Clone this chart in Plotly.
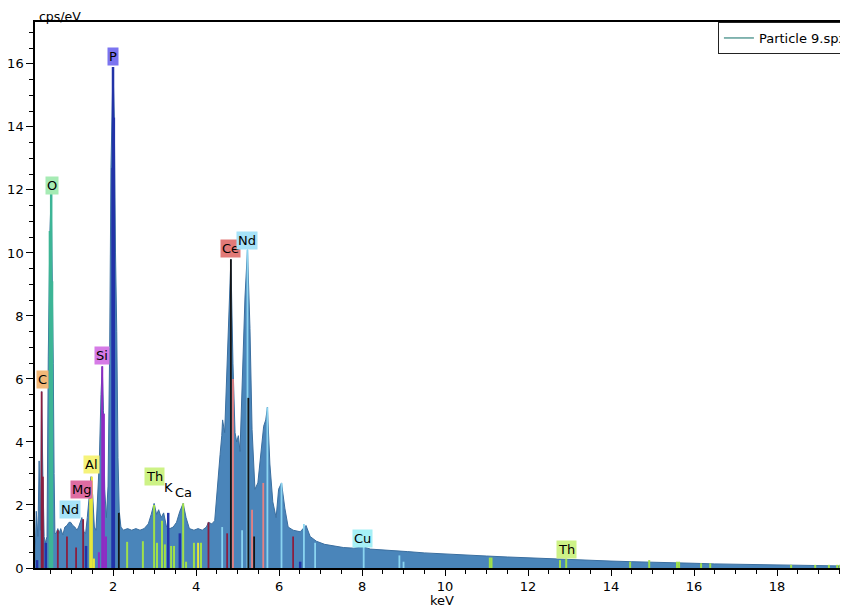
import plotly.graph_objects as go

# ---- spectrum (keV, cps/eV) ----
spec_kev = [0.12, 0.15, 0.19, 0.22, 0.25, 0.28, 0.31, 0.34, 0.37, 0.41, 0.44, 0.48, 0.51, 0.54,
            0.56, 0.58, 0.60, 0.63, 0.67, 0.70, 0.74, 0.79, 0.84, 0.89, 0.94, 0.98, 1.03, 1.08,
            1.13, 1.17, 1.21, 1.25, 1.30, 1.34, 1.38, 1.42, 1.47, 1.51, 1.55, 1.59, 1.63, 1.67,
            1.71, 1.74, 1.77, 1.80, 1.84, 1.88, 1.92, 1.95, 2.00, 2.03, 2.06, 2.09, 2.12, 2.15,
            2.19, 2.25, 2.35, 2.45, 2.55, 2.65, 2.75, 2.85, 2.92, 2.99, 3.05, 3.10, 3.16, 3.22,
            3.29, 3.37, 3.45, 3.53, 3.61, 3.69, 3.76, 3.84, 3.95, 4.05, 4.15, 4.25, 4.30, 4.38,
            4.45, 4.52, 4.58, 4.62, 4.64, 4.69, 4.74, 4.79, 4.84, 4.89, 4.94, 4.98, 5.02, 5.06,
            5.11, 5.18, 5.24, 5.30, 5.35, 5.42, 5.49, 5.57, 5.63, 5.68, 5.72, 5.78, 5.85, 5.93,
            5.99, 6.06, 6.14, 6.22, 6.34, 6.51, 6.60, 6.65, 6.75, 6.90, 7.10, 7.30, 7.55, 7.80,
            8.04, 8.20, 8.50, 8.80, 9.10, 9.50, 10.0, 10.5, 11.0, 11.5, 12.0, 12.5, 13.0, 13.5,
            14.0, 14.5, 15.0, 15.5, 16.0, 16.5, 17.0, 17.5, 18.0, 18.5, 19.0, 19.5, 19.8]
spec_cps = [0.2, 1.8, 1.0, 3.4, 1.2, 5.6, 2.9, 1.0, 0.8, 1.0, 6.7, 10.7, 11.9, 9.1,
            6.5, 3.0, 1.1, 1.1, 1.25, 1.1, 1.25, 1.05, 1.3, 1.35, 1.45, 1.45, 1.35, 1.3,
            1.2, 1.3, 1.45, 1.6, 1.15, 1.1, 1.6, 2.3, 2.9, 2.3, 1.3, 1.2, 2.2, 3.4,
            5.5, 6.4, 5.0, 2.5, 1.6, 2.6, 7.0, 12.7, 15.9, 14.3, 10.0, 7.5, 3.5, 1.8,
            1.3, 1.2, 1.25, 1.2, 1.25, 1.2, 1.25, 1.4, 1.7, 2.05, 1.7, 1.85, 1.6, 1.75,
            1.3, 1.25, 1.3, 1.45, 1.8, 2.05, 1.6, 1.25, 1.2, 1.25, 1.2, 1.3, 1.45, 1.4,
            1.5, 2.8, 3.6, 4.2, 4.7, 4.3, 6.3, 8.1, 9.8, 6.5, 4.3, 4.0, 4.2, 3.7,
            5.6, 8.6, 10.1, 7.6, 4.4, 2.5, 2.7, 3.8, 4.5, 4.7, 5.1, 3.3, 2.1, 1.6,
            2.5, 2.7, 1.9, 1.3, 1.2, 1.15, 1.3, 1.35, 1.0, 0.85, 0.75, 0.7, 0.65, 0.63,
            0.67, 0.6, 0.58, 0.55, 0.52, 0.48, 0.44, 0.41, 0.38, 0.35, 0.32, 0.3, 0.28, 0.25,
            0.22, 0.2, 0.19, 0.17, 0.15, 0.13, 0.12, 0.1, 0.08, 0.07, 0.07, 0.06, 0.06]

# ---- element marker lines (keV, height) per colour group ----
maroon_kev = [0.28, 0.31, 0.67, 0.89, 1.11, 1.28, 4.30, 4.75, 6.34]
maroon_h = [5.6, 2.9, 1.2, 1.0, 0.65, 1.55, 1.45, 1.1, 1.0]
black_kev = [2.14, 4.84, 5.26, 5.40]
black_h = [1.75, 9.8, 5.4, 1.0]
blue_kev = [0.17, 0.38, 1.35, 1.99, 2.0, 2.02, 3.33, 3.61, 6.51]
blue_h = [0.25, 0.8, 0.7, 12.7, 15.9, 14.3, 1.75, 1.1, 0.2]
teal_kev = [0.48, 0.51, 0.53]
teal_h = [10.7, 11.9, 9.1]
purple_kev = [1.66, 1.74, 1.78, 1.83]
purple_h = [0.5, 6.4, 4.9, 1.0]
yellow_kev = [1.45, 1.49, 1.54, 4.05]
yellow_h = [2.2, 2.9, 0.3, 0.8]
green_kev = [2.34, 2.72, 2.99, 3.06, 3.18, 3.25, 3.40, 3.47, 3.69, 3.76, 3.95, 4.12,
             11.08, 11.12, 12.77, 12.92, 14.46, 14.92, 15.59, 15.64, 16.17, 16.39,
             18.34, 18.92, 19.25, 19.45, 19.52]
green_h = [0.83, 0.85, 2.0, 0.8, 1.5, 0.75, 0.7, 0.7, 2.05, 0.2, 0.8, 0.8,
           0.33, 0.33, 0.25, 0.3, 0.2, 0.25, 0.2, 0.2, 0.15, 0.15,
           0.1, 0.1, 0.1, 0.1, 0.1]
lblue_kev = [4.63, 5.11, 5.24, 5.72, 6.06, 6.60, 6.87, 8.04, 8.90, 9.00]
lblue_h = [1.3, 1.2, 10.1, 5.1, 2.7, 1.4, 0.8, 0.67, 0.4, 0.2]
pink_kev = [4.89, 5.35, 5.62]
pink_h = [6.0, 1.85, 2.7]

# ---- element labels ----
lab_text = ["P", "O", "C", "Si", "Al", "Mg", "Nd", "Th", "Ce", "Nd", "Cu", "Th"]
lab_kev = [2.00, 0.52, 0.31, 1.73, 1.49, 1.25, 0.96, 3.01, 4.82, 5.23, 8.02, 12.92]
lab_cps = [16.25, 12.15, 5.97, 6.76, 3.27, 2.48, 1.87, 2.92, 10.13, 10.38, 0.95, 0.6]
lab_bg = ["#7B74F0", "#A6EBB4", "#F2B878", "#D67BE6", "#F6F37A", "#DE6CA2", "#A6E2F8",
          "#CDF286", "#E27A78", "#A6E2F8", "#A6F0F6", "#CDF286"]

x_ticks = [2, 4, 6, 8, 10, 12, 14, 16, 18]
y_ticks = [0, 2, 4, 6, 8, 10, 12, 14, 16]

fig = go.Figure()
fig.add_trace(go.Scatter(x=spec_kev, y=spec_cps, mode="lines", fill="tozeroy",
                         line=dict(color="#3B6FA0", width=1), fillcolor="#4A85BA",
                         showlegend=False, hoverinfo="skip"))


def add_lines(kev, h, color, width):
    xs, ys = [], []
    for e, v in zip(kev, h):
        xs += [e, e, None]
        ys += [0, v, None]
    fig.add_trace(go.Scatter(x=xs, y=ys, mode="lines", line=dict(color=color, width=width),
                             showlegend=False, hoverinfo="skip"))


add_lines(teal_kev, teal_h, "#3DB596", 2.5)
add_lines(blue_kev, blue_h, "#2233A8", 2.5)
add_lines(purple_kev, purple_h, "#8E2BC4", 2)
add_lines(yellow_kev, yellow_h, "#E6E63A", 2)
add_lines(green_kev, green_h, "#A0E04A", 2)
add_lines(lblue_kev, lblue_h, "#8AD4F0", 1.8)
add_lines(pink_kev, pink_h, "#E88080", 1.8)
add_lines(maroon_kev, maroon_h, "#8B1E3F", 1.8)
add_lines(black_kev, black_h, "#151515", 1.8)

fig.add_trace(go.Scatter(x=[None], y=[None], mode="lines", name="Particle 9.spx",
                         line=dict(color="#5E9E99", width=1.5)))

for t, xk, yc, bg in zip(lab_text, lab_kev, lab_cps, lab_bg):
    fig.add_annotation(x=xk, y=yc, text=t, showarrow=False, bgcolor=bg, borderpad=1,
                       font=dict(family="DejaVu Sans", size=13, color="black"))

fig.add_annotation(x=3.33, y=2.57, text="K", showarrow=False,
                   font=dict(family="DejaVu Sans", size=13, color="black"))
fig.add_annotation(x=3.69, y=2.41, text="Ca", showarrow=False,
                   font=dict(family="DejaVu Sans", size=13, color="black"))
fig.add_annotation(xref="paper", yref="paper", x=0.0, y=1.0, xanchor="left", yanchor="top",
                   xshift=3, yshift=14, borderpad=0, text="cps/eV", showarrow=False,
                   font=dict(family="DejaVu Sans", size=12.5, color="black"))
fig.add_annotation(xref="paper", yref="paper", x=0.5, y=0.0, xanchor="center", yanchor="top",
                   yshift=-23, text="keV", showarrow=False,
                   font=dict(family="DejaVu Sans", size=13, color="black"))

# page body has an 8px default margin; size figure so plot edges land as in reference
fig.update_layout(
    width=840, height=600,
    margin=dict(l=27, r=0, t=14, b=40, autoexpand=False),
    paper_bgcolor="white", plot_bgcolor="white",
    font=dict(family="DejaVu Sans", size=13, color="black"),
    legend=dict(x=0.840, y=1.0, xanchor="left", yanchor="top", bgcolor="white",
                bordercolor="#222222", borderwidth=1, font=dict(size=13, color="black")),
    xaxis=dict(range=[0.12, 19.71], tickvals=x_ticks, showgrid=False, zeroline=False,
               automargin=False,
               showline=True, linecolor="black", linewidth=1.5, mirror=True,
               ticks="outside", ticklen=6, tickcolor="black",
               minor=dict(dtick=0.5, tick0=0, ticks="outside", ticklen=4, tickcolor="black")),
    yaxis=dict(range=[0, 17.33], tickvals=y_ticks, showgrid=False, zeroline=False,
               automargin=False,
               showline=True, linecolor="black", linewidth=1.5,
               ticks="outside", ticklen=7, tickcolor="black",
               minor=dict(dtick=0.5, tick0=0, ticks="outside", ticklen=4, tickcolor="black")),
)

fig.write_html("out.html")
